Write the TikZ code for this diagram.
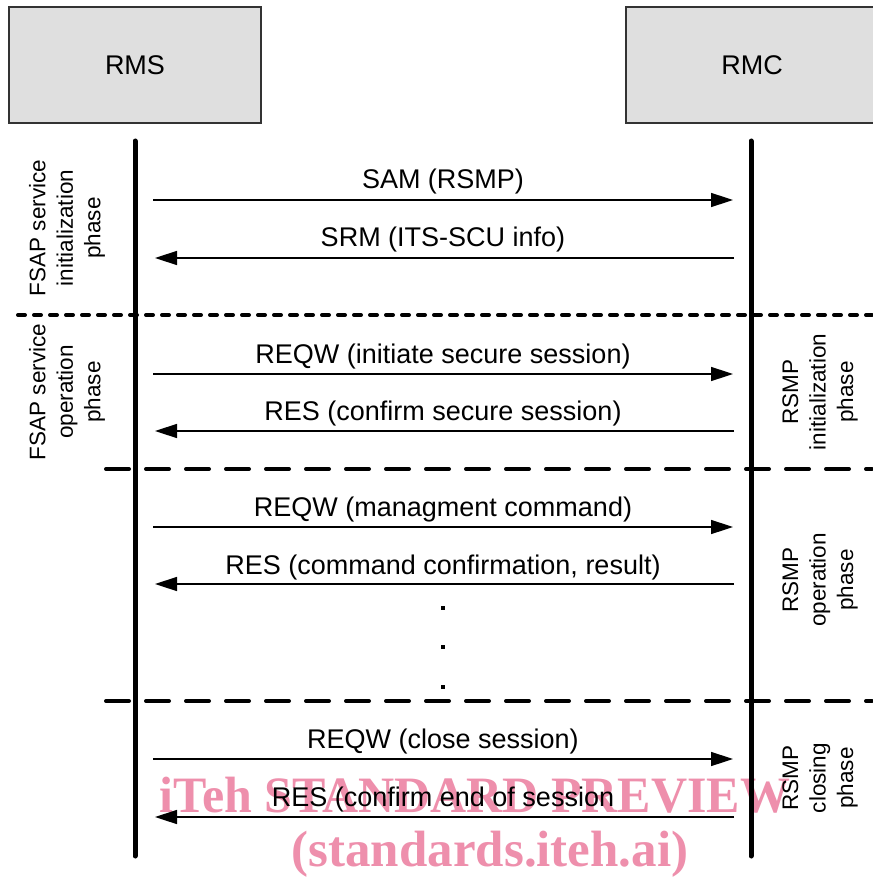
\documentclass[tikz,border=0pt]{standalone}
\usepackage{fontspec}
\setmainfont{Liberation Sans}
\newfontfamily\wmfont{Liberation Serif}
\usetikzlibrary{arrows.meta}
\definecolor{boxgray}{HTML}{DFDFDF}
\definecolor{wmpink}{RGB}{238,143,172}
\begin{document}
\begin{tikzpicture}[x=1pt,y=-1pt,
  entity/.style={draw=black!80, line width=1.5pt, fill=boxgray,
    minimum width=252pt, minimum height=116pt, inner sep=0pt,
    font=\fontsize{27}{32}\selectfont},
  lifeline/.style={line width=5pt, line cap=round},
  msg/.style={line width=1.5pt, -{Triangle[length=22pt,width=14pt]}},
  msglabel/.style={font=\fontsize{27}{32}\selectfont, anchor=base, inner sep=0pt},
  phaselabel/.style={font=\fontsize{22.5}{27.5}\selectfont, align=center,
    rotate=90, inner sep=0pt},
  dotsep/.style={line width=4pt, line cap=round, dash pattern=on 7pt off 9pt},
  dashsep/.style={line width=4pt, line cap=round, dash pattern=on 23pt off 17pt},
  dotmark/.style={fill=black, minimum size=4pt, inner sep=0pt},
  watermark/.style={font=\wmfont\bfseries\fontsize{51}{60}\selectfont,
    text=wmpink, inner sep=0pt, anchor=base}
]
\useasboundingbox (0,0) rectangle (872,877);
\fill[white] (0,0) rectangle (872,877);

% watermark lies underneath everything else
\node[watermark, xscale=0.98] (wm1) at (475,812) {iTeh STANDARD PREVIEW};
\node[watermark] (wm2) at (490,866) {(standards.iteh.ai)};

% entities
\node[entity] (rms) at (135,65) {RMS};
\node[entity] (rmc) at (752,65) {RMC};

% lifelines
\coordinate (rmsTop) at (135,141);
\coordinate (rmsBot) at (135,856);
\coordinate (rmcTop) at (751,141);
\coordinate (rmcBot) at (751,856);
\draw[lifeline] (rmsTop) -- (rmsBot);
\draw[lifeline] (rmcTop) -- (rmcBot);

% phase separators
\coordinate (sepAl) at (18,315);  \coordinate (sepAr) at (872,315);
\coordinate (sepBl) at (106,469); \coordinate (sepBr) at (872,469);
\coordinate (sepCl) at (106,701); \coordinate (sepCr) at (872,701);
\draw[dotsep]  (sepAl) -- (sepAr);
\draw[dashsep] (sepBl) -- (sepBr);
\draw[dashsep] (sepCl) -- (sepCr);

% messages: right-going (RMS -> RMC) and left-going (RMC -> RMS)
\foreach \n/\y in {1/200,3/374,5/527,7/759}{
  \coordinate (m\n s) at (153,\y);
  \coordinate (m\n e) at (733,\y);
  \draw[msg] (m\n s) -- (m\n e);
}
\foreach \n/\y in {2/258,4/431,6/584,8/817}{
  \coordinate (m\n s) at (734,\y);
  \coordinate (m\n e) at (155,\y);
  \draw[msg] (m\n s) -- (m\n e);
}

\node[msglabel] (l1) at (443,189) {SAM (RSMP)};
\node[msglabel] (l2) at (443,247) {SRM (ITS-SCU info)};
\node[msglabel] (l3) at (443,363) {REQW (initiate secure session)};
\node[msglabel] (l4) at (443,420) {RES (confirm secure session)};
\node[msglabel] (l5) at (443,516) {REQW (managment command)};
\node[msglabel] (l6) at (443,574) {RES (command confirmation, result)};
\node[msglabel] (l7) at (443,748) {REQW (close session)};
\node[msglabel] (l8) at (443,806) {RES (confirm end of session};

% continuation dots
\node[dotmark] (d1) at (443,608) {};
\node[dotmark] (d2) at (443,647) {};
\node[dotmark] (d3) at (443,687) {};

% phase labels
\node[phaselabel] (p1) at (67,228) {FSAP service\\initialization\\phase};
\node[phaselabel] (p2) at (67,392) {FSAP service\\operation\\phase};
\node[phaselabel] (p3) at (820,392) {RSMP\\initialization\\phase};
\node[phaselabel] (p4) at (820,580) {RSMP\\operation\\phase};
\node[phaselabel] (p5) at (820,778) {RSMP\\closing\\phase};
\end{tikzpicture}
\end{document}
